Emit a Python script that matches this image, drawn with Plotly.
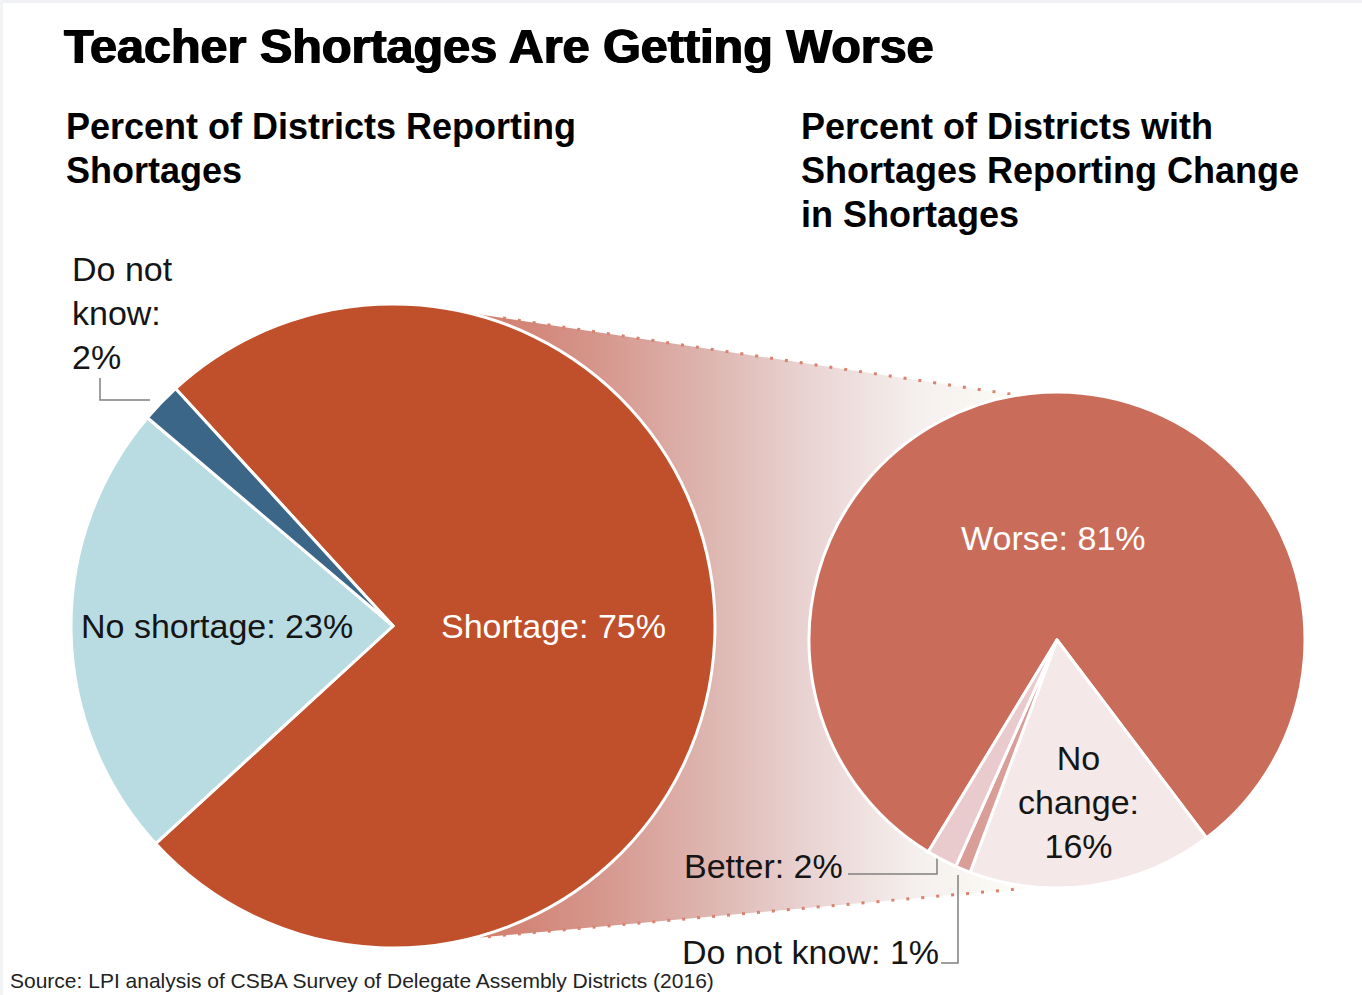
import plotly.graph_objects as go

# ---------------- data ----------------
left_labels = ["Shortage", "No shortage", "Do not know"]
left_values = [75, 23, 2]
left_colors = ["#C0502B", "#B9DCE3", "#3B6688"]

right_labels = ["Worse", "No change", "Do not know", "Better"]
right_values = [81, 16, 1, 2]
right_colors = ["#C96D5A", "#F4E8E8", "#D99E98", "#E9CACD"]

title_text = "Teacher Shortages Are Getting Worse"
left_heading = ["Percent of Districts Reporting", "Shortages"]
right_heading = ["Percent of Districts with", "Shortages Reporting Change", "in Shortages"]
source_text = "Source: LPI analysis of CSBA Survey of Delegate Assembly Districts (2016)"

# ---------------- layout geometry (pixels) ----------------
W, H = 1362, 995
L_CX, L_CY, L_R = 393, 626, 322
R_CX, R_CY, R_R = 1057, 640, 248


def dom(cx, cy, r):
    return dict(x=[(cx - r) / W, (cx + r) / W], y=[1 - (cy + r) / H, 1 - (cy - r) / H])


def top_edge(x):
    return 318 + 0.15 * (x - 503)


def bot_edge(x):
    return 923 - 0.09 * (x - 640)


LABEL_FONT = "Liberation Sans, Arial, sans-serif"
HEAD_FONT = "Liberation Sans, Arial, sans-serif"
INK = "#151515"

fig = go.Figure()

# gradient band connecting the two pies
bx = [480, 1030, 1030, 480]
by = [top_edge(480), top_edge(1030), bot_edge(1030), bot_edge(480)]
fig.add_trace(go.Scatter(
    x=bx, y=by, mode="lines", fill="toself",
    fillgradient=dict(type="horizontal", colorscale=[
        [0.0, "#D27D6C"], [0.2, "#D5948A"], [0.4, "#DDB3AD"],
        [0.6, "#E9D4D3"], [0.8, "#F5F0EE"], [1.0, "#FDFDF6"]]),
    line=dict(width=0), hoverinfo="skip", showlegend=False))

# dotted edges
for fx, x0, x1 in [(top_edge, 503, 1022), (bot_edge, 488, 1022)]:
    fig.add_trace(go.Scatter(
        x=[x0, x1], y=[fx(x0), fx(x1)], mode="lines",
        line=dict(color="#D8826F", width=3, dash="3px,12px"),
        hoverinfo="skip", showlegend=False))

# leader lines
leaders = [
    ([100, 100, 150], [378, 400, 400]),
    ([848, 937, 937], [874, 874, 858]),
    ([941, 958, 958], [963, 963, 875]),
]
for lx, ly in leaders:
    fig.add_trace(go.Scatter(x=lx, y=ly, mode="lines",
                             line=dict(color="#808080", width=1.5),
                             hoverinfo="skip", showlegend=False))

# pies
fig.add_trace(go.Pie(
    labels=left_labels, values=left_values, sort=False, direction="clockwise",
    rotation=-42.5, textinfo="none", hoverinfo="label+percent",
    marker=dict(colors=left_colors, line=dict(color="white", width=3)),
    domain=dom(L_CX, L_CY, L_R), showlegend=False))

fig.add_trace(go.Pie(
    labels=right_labels, values=right_values, sort=False, direction="clockwise",
    rotation=211.3, textinfo="none", hoverinfo="label+percent",
    marker=dict(colors=right_colors, line=dict(color="white", width=3)),
    domain=dom(R_CX, R_CY, R_R), showlegend=False))

ann = []


def add(text, x, y, size, color=INK, xanchor="left", align="left", bold=False, family=LABEL_FONT,
        yanchor="middle", shadow=None, ref="data"):
    font = dict(family=family, size=size, color=color)
    if bold:
        font["weight"] = "bold"
    if shadow:
        font["shadow"] = shadow
    if ref == "paper":
        xr, yr, xx, yy = "paper", "paper", x / W, 1 - y / H
    else:
        xr, yr, xx, yy = "x", "y", x, y
    ann.append(dict(text=text, x=xx, y=yy, xref=xr, yref=yr, showarrow=False,
                    xanchor=xanchor, yanchor=yanchor, align=align, font=font))


# title & headings
add(title_text, 62, 46, 48.5, color="#000000", bold=True, family=HEAD_FONT,
    shadow="0.8px 0 0 #000, -0.8px 0 0 #000")
for i, line in enumerate(left_heading):
    add(line, 64, 126 + 44 * i, 36, color="#000000", bold=True, family=HEAD_FONT)
for i, line in enumerate(right_heading):
    add(line, 799, 126 + 44 * i, 36, color="#000000", bold=True, family=HEAD_FONT)


def lab(labels, values, i, sep=": "):
    return f"{labels[i]}{sep}{values[i]}%"


# left pie labels
add(lab(left_labels, left_values, 0), 553, 626, 34, color="white", xanchor="center", align="center")
add(lab(left_labels, left_values, 1), 217, 626, 34, xanchor="center", align="center")
add("Do not<br>know:<br>" + f"{left_values[2]}%", 70, 313, 34)

# right pie labels
add(lab(right_labels, right_values, 0), 1053, 538, 34, color="white", xanchor="center", align="center")
add("No<br>change:<br>" + f"{right_values[1]}%", 1078, 802, 34, xanchor="center", align="center")
add(lab(right_labels, right_values, 3), 845, 866, 34, xanchor="right", align="right")
add(lab(right_labels, right_values, 2), 941, 952, 34, xanchor="right", align="right")

# source line at the bottom (kept fully inside the page)
add(source_text, 8, 994, 21, color="#222222", yanchor="bottom", ref="paper")

fig.update_layout(
    width=W, height=H, margin=dict(l=0, r=0, t=0, b=0),
    paper_bgcolor="white", plot_bgcolor="white",
    xaxis=dict(range=[0, W], visible=False, fixedrange=True, domain=[0, 1]),
    yaxis=dict(range=[H, 0], visible=False, fixedrange=True, domain=[0, 1]),
    annotations=ann,
    shapes=[
        dict(type="rect", xref="x", yref="y", x0=0, x1=W, y0=0, y1=3,
             fillcolor="#EEF0F3", line=dict(width=0), layer="below"),
        dict(type="rect", xref="x", yref="y", x0=0, x1=3, y0=0, y1=H,
             fillcolor="#F2F3F5", line=dict(width=0), layer="below"),
    ],
)

fig.write_html("out.html")
